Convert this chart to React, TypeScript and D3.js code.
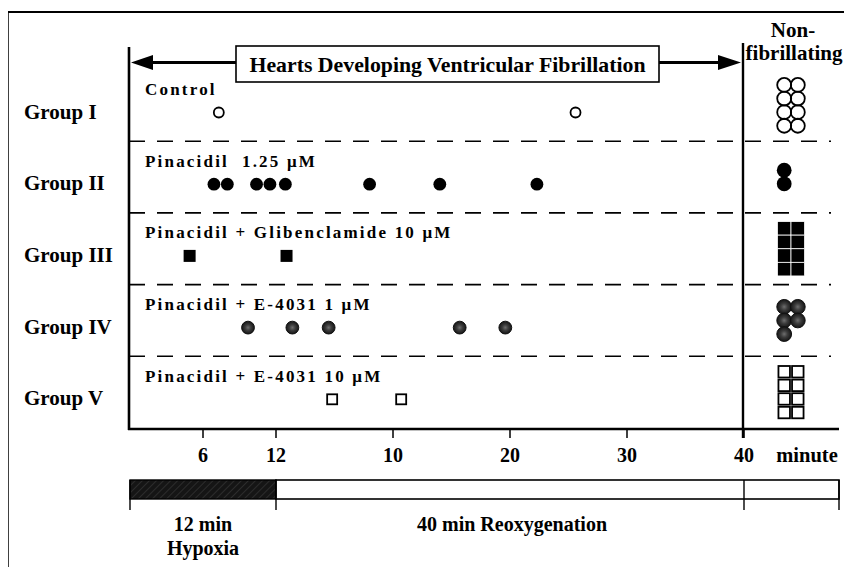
import React from "react";
import * as d3 from "d3";

const groups = ["Group I", "Group II", "Group III", "Group IV", "Group V"];
const conditions = [
  "Control",
  "Pinacidil  1.25 μM",
  "Pinacidil + Glibenclamide 10 μM",
  "Pinacidil + E-4031 1 μM",
  "Pinacidil + E-4031 10 μM",
];
const markerKinds = ["openCircle", "filledCircle", "filledSquare", "grayCircle", "openSquare"];
// time of VF onset, minutes from start of hypoxia (0-12 hypoxia, 12-52 reoxygenation)
const vfTimesI = [7.3, 37.6];
const vfTimesII = [6.9, 8.0, 10.4, 11.5, 12.8, 20.0, 26.0, 34.3];
const vfTimesIII = [4.9, 12.9];
const vfTimesIV = [9.7, 13.4, 16.5, 27.7, 31.6];
const vfTimesV = [16.8, 22.7];
const vfTimes = [vfTimesI, vfTimesII, vfTimesIII, vfTimesIV, vfTimesV];
const nonFibrillating = [8, 2, 8, 5, 8];
const hypoxiaTicks = [6, 12];
const reoxTicks = [10, 20, 30, 40];
const hypoxiaMinutes = 12;
const reoxMinutes = 40;

const FONT = "'Liberation Serif', 'Times New Roman', serif";

export default function App() {
  const x = d3
    .scaleLinear()
    .domain([0, hypoxiaMinutes, hypoxiaMinutes + reoxMinutes])
    .range([130, 276, 744]);
  const y = d3.scaleBand<string>().domain(groups).range([69.5, 428]).padding(0);
  const bw = y.bandwidth();
  const axisY = 429;
  const leftX = 129;
  const divX = 743;
  const rightEnd = 839;
  const pitch = 13.6;
  const colCenter = 791;

  const marker = (kind: string, cx: number, cy: number, key: string, big = false) => {
    const r = big ? 7.4 : 6.4;
    if (kind === "openCircle")
      return <circle key={key} cx={cx} cy={cy} r={big ? 7 : 5} fill="none" stroke="#000" strokeWidth={1.8} />;
    if (kind === "filledCircle") return <circle key={key} cx={cx} cy={cy} r={r} fill="#000" />;
    if (kind === "grayCircle")
      return <circle key={key} cx={cx} cy={cy} r={r} fill="url(#grayFill)" stroke="#111" strokeWidth={1} />;
    if (kind === "filledSquare") {
      const s = big ? pitch : 12;
      return <rect key={key} x={cx - s / 2} y={cy - s / 2} width={s} height={s} fill="#000" stroke={big ? "#fff" : "none"} strokeWidth={0.8} />;
    }
    const s = big ? 11.5 : 10;
    return <rect key={key} x={cx - s / 2} y={cy - s / 2} width={s} height={s} fill="#fff" stroke="#000" strokeWidth={1.8} />;
  };

  return (
    <svg width={844} height={559} style={{ display: "block" }} viewBox="8 8 844 559">
      <defs>
        <radialGradient id="grayFill">
          <stop offset="0%" stopColor="#6e6e6e" />
          <stop offset="45%" stopColor="#3c3c3c" />
          <stop offset="100%" stopColor="#151515" />
        </radialGradient>
        <pattern id="hatch" width="5" height="5" patternUnits="userSpaceOnUse" patternTransform="rotate(45)">
          <rect width="5" height="5" fill="#151515" />
          <line x1="0" y1="0" x2="0" y2="5" stroke="#555" strokeWidth="0.7" />
        </pattern>
      </defs>
      <rect x={8} y={8} width={844} height={559} fill="#fff" />
      {/* outer frame */}
      <line x1={8} y1={12} x2={852} y2={12} stroke="#000" strokeWidth={2} />
      <line x1={8} y1={12} x2={8} y2={567} stroke="#000" strokeWidth={1.5} />

      {/* axes */}
      <line x1={leftX} y1={47} x2={leftX} y2={axisY + 1} stroke="#000" strokeWidth={2.6} />
      <line x1={leftX - 1} y1={axisY} x2={rightEnd} y2={axisY} stroke="#000" strokeWidth={2.6} />
      <line x1={divX} y1={43} x2={divX} y2={438} stroke="#000" strokeWidth={2.4} />

      {/* separators */}
      {groups.slice(1).map((g) => (
        <line key={g} x1={leftX} x2={rightEnd - 8} y1={y(g)!} y2={y(g)!} stroke="#000" strokeWidth={1.6} strokeDasharray="16 12" />
      ))}

      {/* header arrow and box */}
      <line x1={150} y1={62.5} x2={236} y2={62.5} stroke="#000" strokeWidth={3.2} />
      <line x1={659} y1={62.5} x2={720} y2={62.5} stroke="#000" strokeWidth={3.2} />
      <path d="M131,62.5 L153,55 L153,70 Z" fill="#000" />
      <path d="M741,62.5 L718,55 L718,70 Z" fill="#000" />
      <rect x={236} y={46} width={423} height={36} fill="#fff" stroke="#000" strokeWidth={1.6} />
      <text x={447.5} y={71.5} textAnchor="middle" fontFamily={FONT} fontWeight="bold" fontSize={22} textLength={396} lengthAdjust="spacingAndGlyphs">
        Hearts Developing Ventricular Fibrillation
      </text>
      <text x={793} y={37} textAnchor="middle" fontFamily={FONT} fontWeight="bold" fontSize={21}>Non-</text>
      <text x={794} y={60} textAnchor="middle" fontFamily={FONT} fontWeight="bold" fontSize={21}>fibrillating</text>

      {/* groups */}
      {groups.map((g, i) => {
        const y0 = y(g)!;
        const n = nonFibrillating[i];
        const rows = Math.max(2, Math.ceil(n / 2));
        const gridTop = y0 + bw / 2 - ((rows - 1) * pitch) / 2;
        return (
          <g key={g}>
            <text x={24} y={y0 + 49} fontFamily={FONT} fontWeight="bold" fontSize={21}>{g}</text>
            <text x={145} y={y0 + 25.5} fontFamily={FONT} fontWeight="bold" fontSize={17} letterSpacing={2.2} style={{ whiteSpace: "pre" }}>
              {conditions[i]}
            </text>
            {vfTimes[i].map((t, j) => marker(markerKinds[i], x(t), y0 + 43, `m${j}`))}
            {d3.range(n).map((k) => {
              const c = Math.floor(k / rows);
              const r = k % rows;
              const cx = colCenter + (c - 0.5) * pitch;
              return marker(markerKinds[i], cx, gridTop + r * pitch, `n${k}`, true);
            })}
          </g>
        );
      })}

      {/* ticks */}
      {hypoxiaTicks.map((t) => (
        <g key={`h${t}`}>
          <line x1={x(t)} x2={x(t)} y1={axisY} y2={axisY + 9} stroke="#000" strokeWidth={1.5} />
          <text x={x(t)} y={462} textAnchor="middle" fontFamily={FONT} fontWeight="bold" fontSize={20}>{t}</text>
        </g>
      ))}
      {reoxTicks.map((t) => (
        <g key={`r${t}`}>
          <line x1={x(hypoxiaMinutes + t)} x2={x(hypoxiaMinutes + t)} y1={axisY} y2={axisY + 9} stroke="#000" strokeWidth={1.5} />
          <text x={x(hypoxiaMinutes + t)} y={462} textAnchor="middle" fontFamily={FONT} fontWeight="bold" fontSize={20}>{t}</text>
        </g>
      ))}
      <text x={807} y={462} textAnchor="middle" fontFamily={FONT} fontWeight="bold" fontSize={20.5}>minute</text>

      {/* protocol bar */}
      <rect x={x(0)} y={480} width={x(hypoxiaMinutes) - x(0)} height={19} fill="url(#hatch)" stroke="#000" strokeWidth={1.4} />
      <rect x={x(hypoxiaMinutes)} y={480} width={rightEnd - x(hypoxiaMinutes)} height={19} fill="#fff" stroke="#000" strokeWidth={1.6} />
      {[x(0), x(hypoxiaMinutes), x(hypoxiaMinutes + reoxMinutes), rightEnd].map((v, i) => (
        <line key={i} x1={v} x2={v} y1={480} y2={510} stroke="#000" strokeWidth={1.4} />
      ))}
      <text x={(x(0) + x(hypoxiaMinutes)) / 2} y={531} textAnchor="middle" fontFamily={FONT} fontWeight="bold" fontSize={20}>12 min</text>
      <text x={(x(0) + x(hypoxiaMinutes)) / 2} y={555} textAnchor="middle" fontFamily={FONT} fontWeight="bold" fontSize={20}>Hypoxia</text>
      <text x={512} y={531} textAnchor="middle" fontFamily={FONT} fontWeight="bold" fontSize={20}>40 min Reoxygenation</text>
    </svg>
  );
}
